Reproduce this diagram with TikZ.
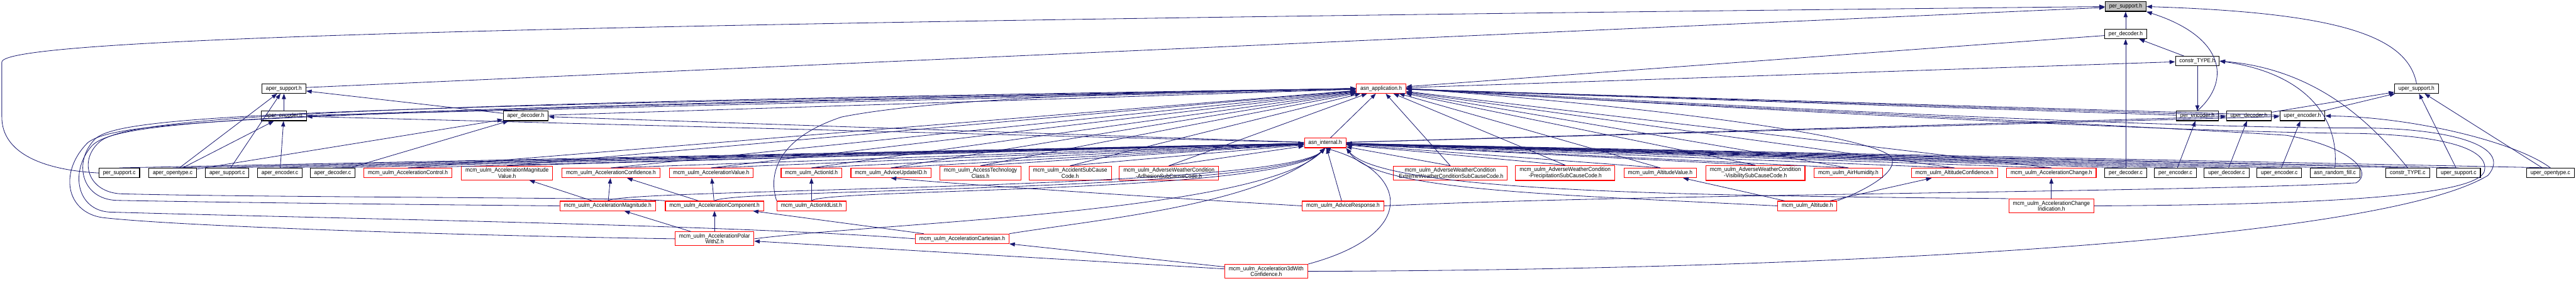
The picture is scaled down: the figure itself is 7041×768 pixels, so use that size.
\documentclass[tikz,border=0pt]{standalone}
\usepackage{fontspec}
\setmainfont{Liberation Sans}[FakeStretch=0.92]
\usetikzlibrary{arrows.meta}
\definecolor{edgeblue}{HTML}{191970}
\definecolor{thisgrey}{HTML}{BFBFBF}
\newcommand\filefont{\fontsize{4.5}{4.6}\selectfont}
\tikzset{
  file/.style={draw=black, fill=white, line width=0.55pt, inner xsep=0.11cm, inner ysep=0.05cm,
    minimum height=0.26cm, align=center, font=\filefont},
  cut/.style={file, draw=red},
  this/.style={file, fill=thisgrey},
  inc/.style={draw=edgeblue, line width=0.4pt, -{Triangle[length=0.15cm,width=0.11cm]}},
}
\begin{document}
\begin{tikzpicture}[x=0.01cm, y=-0.01cm]
\useasboundingbox (0,0) rectangle (7041,768);

% headers at the top
\node[this] (psh) at (5810,18) {per\_support.h};
\node[file] (pdh) at (5810,93) {per\_decoder.h};
\node[file] (cth) at (6006,167) {constr\_TYPE.h};
\node[file] (ash) at (776,242) {aper\_support.h};
\node[cut]  (aap) at (3775,242) {asn\_application.h};
\node[file] (ush) at (6605,242) {uper\_support.h};
\node[file] (aeh) at (776,317) {aper\_encoder.h};
\node[file] (adh) at (1437,317) {aper\_decoder.h};
\node[file] (peh) at (6006,317) {per\_encoder.h};
\node[file] (udh) at (6147,317) {uper\_decoder.h};
\node[file] (ueh) at (6293,317) {uper\_encoder.h};
\node[cut]  (ain) at (3622,391) {asn\_internal.h};

% source files
\foreach \n/\x/\lbl in {psc/326/per\_support.c, aoc/472/aper\_opentype.c, asc/621/aper\_support.c,
  aec/765/aper\_encoder.c, adc/909/aper\_decoder.c, pdc/5810/per\_decoder.c, pec/5946/per\_encoder.c,
  udc/6086/uper\_decoder.c, uec/6230/uper\_encoder.c, arf/6382/asn\_random\_fill.c,
  ctc/6581/constr\_TYPE.c, usc/6720/uper\_support.c, uoc/6971/uper\_opentype.c}
  \node[file] (\n) at (\x,473) {\lbl};

% mcm headers, first row
\foreach \n/\x/\lbl in {acctrl/1115/{mcm\_uulm\_AccelerationControl.h},
  accmv/1386/{mcm\_uulm\_AccelerationMagnitude\\Value.h},
  acccf/1670/{mcm\_uulm\_AccelerationConfidence.h},
  accv/1944/{mcm\_uulm\_AccelerationValue.h},
  actid/2218/{mcm\_uulm\_ActionId.h},
  advid/2435/{mcm\_uulm\_AdviceUpdateID.h},
  actc/2680/{mcm\_uulm\_AccessTechnology\\Class.h},
  accsc/2925/{mcm\_uulm\_AccidentSubCause\\Code.h},
  awadh/3195/{mcm\_uulm\_AdverseWeatherCondition\\-AdhesionSubCauseCode.h},
  awext/3964/{mcm\_uulm\_AdverseWeatherCondition\\-ExtremeWeatherConditionSubCauseCode.h},
  awpre/4278/{mcm\_uulm\_AdverseWeatherCondition\\-PrecipitationSubCauseCode.h},
  altv/4538/{mcm\_uulm\_AltitudeValue.h},
  awvis/4798/{mcm\_uulm\_AdverseWeatherCondition\\-VisibilitySubCauseCode.h},
  airh/5052/{mcm\_uulm\_AirHumidity.h},
  altcf/5342/{mcm\_uulm\_AltitudeConfidence.h},
  accch/5607/{mcm\_uulm\_AccelerationChange.h}}
  \node[cut] (\n) at (\x,473) {\lbl};

% mcm headers, lower rows
\node[cut] (accm) at (1661,563) {mcm\_uulm\_AccelerationMagnitude.h};
\node[cut] (acccomp) at (1953,563) {mcm\_uulm\_AccelerationComponent.h};
\node[cut] (actidl) at (2218,563) {mcm\_uulm\_ActionIdList.h};
\node[cut] (advresp) at (3671,563) {mcm\_uulm\_AdviceResponse.h};
\node[cut] (alt) at (4940,563) {mcm\_uulm\_Altitude.h};
\node[cut] (accci) at (5607,563) {mcm\_uulm\_AccelerationChange\\Indication.h};
\node[cut] (accpz) at (1953,653) {mcm\_uulm\_AccelerationPolar\\WithZ.h};
\node[cut] (acccart) at (2630,653) {mcm\_uulm\_AccelerationCartesian.h};
\node[cut] (acc3d) at (3461,742) {mcm\_uulm\_Acceleration3dWith\\Confidence.h};

% short includes
\foreach \a/\b in {pdh/psh, pdc/pdh, cth/pdh, cth/peh, aap/cth, pec/peh, udc/udh, uec/ueh,
  usc/ush, uoc/ush, udh/ush, ueh/ush, aeh/ash, adh/ash, aoc/ash, asc/ash, ash/psh,
  aoc/aeh, aec/aeh, adc/adh, aoc/adh, ain/aap, ain/aeh, ain/adh, ain/udh, ain/ueh,
  pdh/aap, peh/aap, udh/aap, ueh/aap, aeh/aap, adh/aap,
  accm/accmv, accm/acccf, acccomp/acccf, acccomp/accv, actidl/actid, alt/altv, alt/altcf,
  accci/accch, accpz/accm, accpz/acccomp, acccart/acccomp, acc3d/accpz, acc3d/acccart,
  advresp/ain}
  \draw[inc] (\a) -- (\b);

\foreach \a in {psc, aoc, asc, aec, adc, pdc, pec, udc, uec, arf, ctc, usc, uoc}
  \draw[inc] (\a.north) -- (ain);
\foreach \a in {acctrl, accmv, acccf, accv, actid, advid, actc, accsc, awadh, awext, awpre,
  altv, awvis, airh, altcf, accch}
  {\draw[inc] (\a.north) -- (aap);
   \draw[inc] (\a.north) -- (ain);}

% curved includes on the right
\draw[inc] (peh.north) .. controls (6100,220) and (6080,100) .. (psh.south east);
\draw[inc] (ush.north) .. controls (6580,100) and (6400,35) .. (psh.east);
\draw[inc] (arf.north) .. controls (6395,320) and (6300,200) .. (cth.east);
\draw[inc] (ctc.north) .. controls (6500,360) and (6350,190) .. (cth.east);
\draw[inc] (uoc.north) .. controls (6880,390) and (6600,320) .. (ueh.east);
\draw[inc] (psc.west) .. controls (120,465) and (5,420) .. (5,320) -- (5,170)
  .. controls (5,110) and (1200,65) .. (psh.west);
\draw[inc] (advresp.west) .. controls (3000,530) and (2580,500) .. (advid.south);

% lower headers into asn_internal.h
\draw[inc] (accm.north) .. controls (1700,515) and (3500,520) .. (ain.south);
\draw[inc] (acccomp.north) .. controls (2000,515) and (3500,525) .. (ain.south);
\draw[inc] (actidl.north) .. controls (2250,515) and (3500,530) .. (ain.south);
\draw[inc] (accpz.east) .. controls (2400,610) and (3450,580) .. (ain.south);
\draw[inc] (acccart.north east) .. controls (3000,600) and (3450,560) .. (ain.south);
\draw[inc] (acc3d.north east) .. controls (3880,640) and (3850,470) .. (ain.south);
\draw[inc] (alt.west) .. controls (4200,530) and (3760,520) .. (ain.south east);
\draw[inc] (accci.north west) .. controls (4600,535) and (3780,525) .. (ain.south east);

% lower headers into asn_application.h
\draw[inc] (acccomp.north west) .. controls (1750,540) and (700,540) .. (330,530)
  .. controls (240,525) and (215,440) .. (270,390) .. controls (340,320) and (900,285) .. (aap.west);
\draw[inc] (accm.west) .. controls (1200,560) and (700,555) .. (320,548)
  .. controls (220,545) and (200,440) .. (260,380) .. controls (330,315) and (800,295) .. (aap.west);
\draw[inc] (acccart.west) .. controls (2000,615) and (1000,600) .. (300,580)
  .. controls (210,575) and (190,470) .. (250,400) .. controls (320,325) and (700,305) .. (aap.west);
\draw[inc] (accpz.west) .. controls (1300,645) and (500,620) .. (280,595)
  .. controls (180,580) and (160,470) .. (240,390) .. controls (320,330) and (650,310) .. (aap.west);
\draw[inc] (actidl.north west) .. controls (2100,480) and (2120,380) .. (2300,320)
  .. controls (2600,260) and (3300,250) .. (aap.west);
\draw[inc] (acc3d.east) .. controls (5000,738) and (6500,660) .. (6800,480)
  .. controls (6870,400) and (6700,350) .. (6450,350) .. controls (5800,350) and (4300,265) .. (aap.east);
\draw[inc] (accci.east) .. controls (6300,560) and (6760,540) .. (6790,470)
  .. controls (6810,400) and (6650,370) .. (6450,365) .. controls (5800,360) and (4300,270) .. (aap.east);
\draw[inc] (advresp.east) .. controls (4500,530) and (6000,525) .. (6440,500)
  .. controls (6490,470) and (6420,400) .. (6250,370) .. controls (5600,330) and (4300,275) .. (aap.east);
\draw[inc] (alt.north east) .. controls (5100,520) and (5190,470) .. (5170,430)
  .. controls (5120,370) and (4500,290) .. (aap.east);
\end{tikzpicture}
\end{document}
